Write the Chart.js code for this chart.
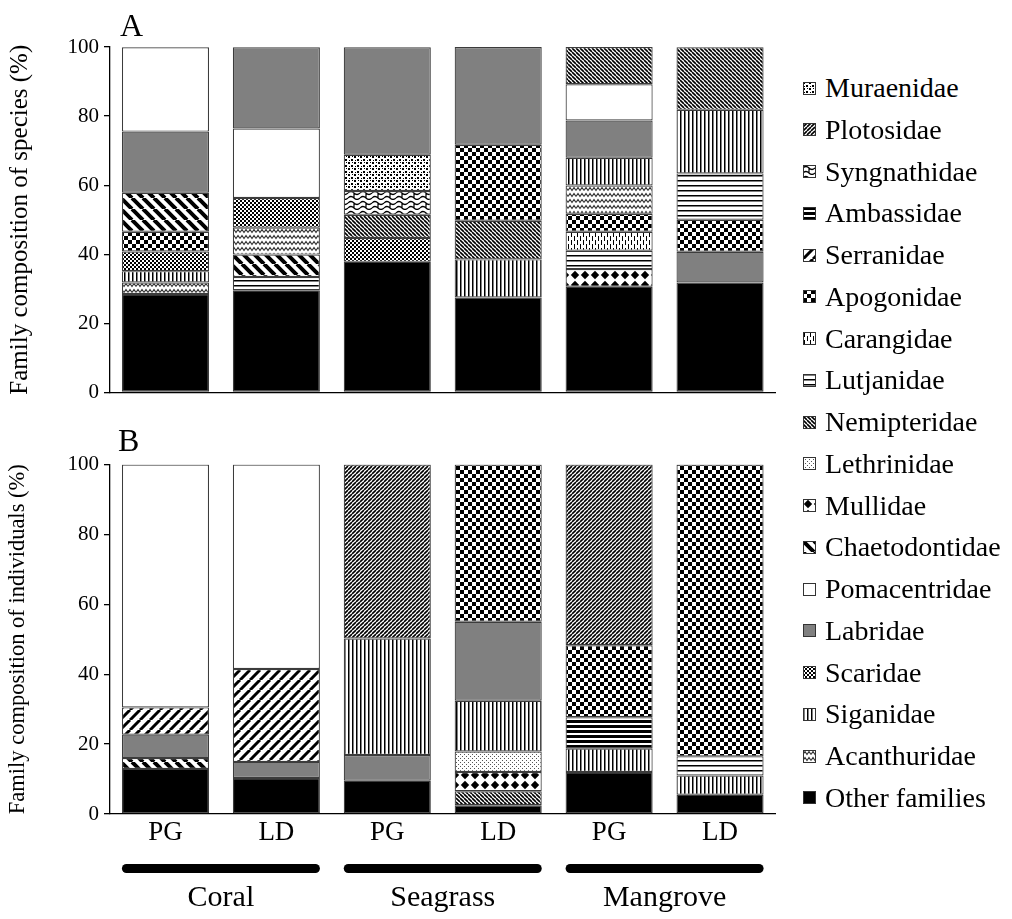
<!DOCTYPE html>
<html><head><meta charset="utf-8">
<script src="https://cdn.jsdelivr.net/npm/chart.js@4.4.1/dist/chart.umd.min.js"></script>
<style>
body{margin:0;background:#fff;}
#wrap{position:relative;width:1012px;height:919px;overflow:hidden;font-family:"Liberation Serif","Times New Roman",serif;background:#fff;}
#ca{position:absolute;left:0;top:0;}
#cb{position:absolute;left:0;top:410px;}
.panel{position:absolute;font-size:32px;color:#000;line-height:1;}
.li{position:absolute;left:803px;height:30px;display:flex;align-items:center;white-space:nowrap;font-size:28px;color:#000;}
.li canvas{width:13px;height:13px;margin-right:9px;}
</style></head>
<body>
<div id="wrap">
<canvas id="ca" width="790" height="410"></canvas>
<canvas id="cb" width="790" height="509"></canvas>
<div class="panel" style="left:120px;top:9px;">A</div>
<div class="panel" style="left:118px;top:424px;">B</div>
<div id="legend"></div>
</div>
<script>
const FONT = '"Liberation Serif","Times New Roman",serif';
const categories = ['PG','LD','PG','LD','PG','LD'];
const groups = ['Coral','Seagrass','Mangrove'];
const yTicks = [0,20,40,60,80,100];
const families = ['Muraenidae','Plotosidae','Syngnathidae','Ambassidae','Serranidae','Apogonidae','Carangidae','Lutjanidae','Nemipteridae','Lethrinidae','Mullidae','Chaetodontidae','Pomacentridae','Labridae','Scaridae','Siganidae','Acanthuridae','Other families'];

// Panel A: family composition of species (%), bottom to top within each bar
const A_CoralPG = [['Other families',28.5],['Acanthuridae',3.3],['Siganidae',3.3],['Scaridae',5.7],['Apogonidae',5.7],['Chaetodontidae',11.3],['Labridae',17.7],['Pomacentridae',24.4]];
const A_CoralLD = [['Other families',29.6],['Lutjanidae',3.8],['Chaetodontidae',6.5],['Acanthuridae',7.8],['Scaridae',8.6],['Pomacentridae',20.1],['Labridae',23.5]];
const A_SeagrassPG = [['Other families',37.8],['Scaridae',6.9],['Nemipteridae',6.7],['Syngnathidae',6.9],['Muraenidae',10.5],['Labridae',31.1]];
const A_SeagrassLD = [['Other families',27.5],['Siganidae',11.0],['Nemipteridae',11.2],['Apogonidae',22.0],['Labridae',28.3]];
const A_MangrovePG = [['Other families',30.6],['Mullidae',5.1],['Lutjanidae',5.3],['Carangidae',5.5],['Apogonidae',5.2],['Acanthuridae',8.2],['Siganidae',8.0],['Labridae',10.8],['Pomacentridae',10.5],['Nemipteridae',10.8]];
const A_MangroveLD = [['Other families',31.8],['Labridae',8.9],['Apogonidae',9.3],['Lutjanidae',13.4],['Siganidae',18.4],['Nemipteridae',18.1]];

// Panel B: family composition of individuals (%)
const B_CoralPG = [['Other families',12.9],['Chaetodontidae',3.1],['Labridae',6.7],['Serranidae',7.8],['Pomacentridae',69.5]];
const B_CoralLD = [['Other families',10.3],['Labridae',4.6],['Serranidae',26.6],['Pomacentridae',58.5]];
const B_SeagrassPG = [['Other families',9.5],['Labridae',7.4],['Siganidae',33.3],['Plotosidae',49.8]];
const B_SeagrassLD = [['Other families',2.5],['Nemipteridae',4.0],['Mullidae',5.5],['Lethrinidae',5.9],['Siganidae',14.5],['Labridae',22.6],['Apogonidae',45.0]];
const B_MangrovePG = [['Other families',12.0],['Siganidae',6.7],['Ambassidae',9.0],['Apogonidae',20.6],['Plotosidae',51.7]];
const B_MangroveLD = [['Other families',5.5],['Siganidae',5.5],['Lutjanidae',5.5],['Apogonidae',83.5]];

const panelA = [A_CoralPG, A_CoralLD, A_SeagrassPG, A_SeagrassLD, A_MangrovePG, A_MangroveLD];
const panelB = [B_CoralPG, B_CoralLD, B_SeagrassPG, B_SeagrassLD, B_MangrovePG, B_MangroveLD];

// ---------- fill patterns ----------
function tile(w,h,draw){
  const c=document.createElement('canvas');c.width=w;c.height=h;
  const g=c.getContext('2d');g.fillStyle='#fff';g.fillRect(0,0,w,h);
  g.fillStyle='#000';g.strokeStyle='#000';draw(g,w,h);return c;
}
function diag(g,w,lw,dir){
  g.lineWidth=lw;g.beginPath();
  for(let k=-1;k<=1;k++){
    if(dir>0){g.moveTo(k*w,w);g.lineTo(k*w+w,0);} else {g.moveTo(k*w,0);g.lineTo(k*w+w,w);}
  }
  g.stroke();
}
const tiles = {
  'Acanthuridae': tile(8,6,(g)=>{g.strokeStyle='#333';g.lineWidth=1.2;g.beginPath();g.moveTo(0,4.5);g.lineTo(2,1.5);g.lineTo(4,4.5);g.lineTo(6,1.5);g.lineTo(8,4.5);g.stroke();}),
  'Siganidae': tile(4,4,(g)=>{g.fillRect(0,0,1.5,4);}),
  'Scaridae': tile(4,4,(g)=>{g.fillRect(0,0,2,2);g.fillRect(2,2,2,2);}),
  'Apogonidae': tile(8,8,(g)=>{g.fillRect(0,0,4,4);g.fillRect(4,4,4,4);}),
  'Chaetodontidae': tile(11,11,(g,w)=>diag(g,w,4,-1)),
  'Serranidae': tile(10,10,(g,w)=>diag(g,w,3,1)),
  'Nemipteridae': tile(4,4,(g,w)=>diag(g,w,1.6,-1)),
  'Plotosidae': tile(4,4,(g,w)=>diag(g,w,1.6,1)),
  'Lutjanidae': tile(5,5,(g)=>{g.fillRect(0,0,5,1.5);}),
  'Ambassidae': tile(5,5,(g)=>{g.fillRect(0,0,5,3);}),
  'Lethrinidae': tile(4,4,(g)=>{g.fillStyle='#555';g.fillRect(0,0,1,1);g.fillRect(2,2,1,1);}),
  'Muraenidae': tile(6,6,(g)=>{g.fillRect(0,0,2,2);g.fillRect(3,3,2,2);g.fillRect(4,0,1,1);g.fillRect(1,4,1,1);}),
  'Mullidae': tile(10,10,(g)=>{g.beginPath();g.moveTo(5,0.8);g.lineTo(9.2,5);g.lineTo(5,9.2);g.lineTo(0.8,5);g.closePath();g.fill();}),
  'Carangidae': tile(6,8,(g)=>{g.fillRect(1,0,1,5);g.fillRect(4,4,1,4);g.fillRect(4,0,1,1);}),
  'Syngnathidae': tile(12,10,(g)=>{g.lineWidth=1.2;g.beginPath();g.moveTo(0,3);g.quadraticCurveTo(3,0,6,3);g.quadraticCurveTo(9,6,12,3);g.moveTo(0,8);g.quadraticCurveTo(3,5,6,8);g.quadraticCurveTo(9,11,12,8);g.moveTo(6,3);g.lineTo(6,8);g.stroke();})
};
const solid = {'Other families':'#000','Labridae':'#808080','Pomacentridae':'#fff'};
function fillFor(ctx,f){
  if(solid[f]) return solid[f];
  return ctx.createPattern(tiles[f],'repeat');
}

function buildDatasets(ctx,bars){
  return families.slice().reverse().map(f=>{
    const data = bars.map(bar=>{
      let base=0;
      for(const [name,v] of bar){ if(name===f) return [base,base+v]; base+=v; }
      return null;
    });
    return {label:f,data,backgroundColor:fillFor(ctx,f),borderColor:'#3c3c3c',borderWidth:1.2,
      borderSkipped:false,grouped:false,categoryPercentage:0.785,barPercentage:1};
  });
}

const groupPlugin = {
  id:'groups',
  afterDraw(chart){
    const x=chart.scales.x, ctx=chart.ctx, b=chart.chartArea.bottom;
    const hw=(x.getPixelForValue(1)-x.getPixelForValue(0))*0.785/2;
    groups.forEach((name,gi)=>{
      const l=x.getPixelForValue(gi*2)-hw, r=x.getPixelForValue(gi*2+1)+hw;
      ctx.save();ctx.fillStyle='#000';
      ctx.beginPath();ctx.roundRect(l,b+50,r-l,9,4.5);ctx.fill();
      ctx.font='30px '+FONT;ctx.textAlign='center';ctx.textBaseline='middle';
      ctx.fillText(name,(l+r)/2,b+84);
      ctx.restore();
    });
  }
};

function makeChart(id,bars,title,titleSize,showX,padTop,padBottom,plugins){
  const cv=document.getElementById(id), ctx=cv.getContext('2d');
  return new Chart(ctx,{type:'bar',
    data:{labels:categories,datasets:buildDatasets(ctx,bars)},
    options:{responsive:false,animation:false,devicePixelRatio:1,
      layout:{padding:{left:0,right:14.5,top:padTop,bottom:padBottom}},
      plugins:{legend:{display:false},tooltip:{enabled:false}},
      scales:{
        x:{grid:{display:false,drawTicks:false},border:{display:true,color:'#000',width:1.3},
           ticks:{display:showX,font:{family:FONT,size:27},color:'#000',padding:3},
           afterFit:s=>{s.height=showX?40:0;}},
        y:{min:0,max:100,afterBuildTicks:s=>{s.ticks=yTicks.map(v=>({value:v}));},
           ticks:{font:{family:FONT,size:21},color:'#000',padding:5},
           grid:{drawOnChartArea:false,drawTicks:true,tickLength:6,color:'#000',lineWidth:1.3},
           border:{display:true,color:'#000',width:1.3},
           title:{display:true,text:title,font:{family:FONT,size:titleSize},color:'#000',padding:{top:5,bottom:0}},
           afterFit:s=>{s.width=110;}}
      }},
    plugins:plugins||[]});
}

makeChart('ca',panelA,'Family composition of species (%)',25,false,47,13.5);
makeChart('cb',panelB,'Family composition of individuals (%)',22.5,true,54.5,65,[groupPlugin]);

// legend
const lg=document.getElementById('legend');
families.forEach((f,i)=>{
  const d=document.createElement('div');d.className='li';d.style.top=(88+i*41.75-15)+'px';
  const c=document.createElement('canvas');c.width=13;c.height=13;
  const g=c.getContext('2d');g.fillStyle=fillFor(g,f);g.fillRect(0,0,13,13);
  g.strokeStyle='#333';g.lineWidth=1;g.strokeRect(0.5,0.5,12,12);
  d.appendChild(c);
  const s=document.createElement('span');s.textContent=f;d.appendChild(s);
  lg.appendChild(d);
});
</script>
</body></html>
